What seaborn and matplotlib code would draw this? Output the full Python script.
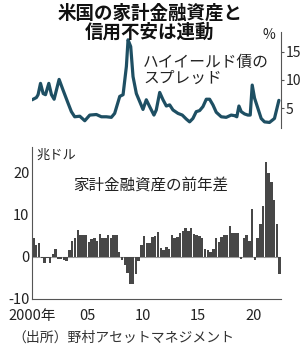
import matplotlib
matplotlib.use("Agg")
import matplotlib.pyplot as plt
import seaborn as sns
import numpy as np
import pandas as pd

# ---- data ----
# Household financial assets, YoY change (trillion USD), quarterly 2000Q1-2022Q2
asset_yoy = [
    4.3, 2.8, 3.3, -0.3,   -1.5, -0.3, -1.5, 0.5,   1.7, -0.5, -0.5, -0.8,
    -1.0, 1.5, 3.7, 4.5,   6.3, 5.0, 5.0, 5.0,      3.5, 4.2, 4.5, 3.8,
    5.3, 4.5, 4.5, 5.0,    4.5, 5.2, 5.2, 1.0,
    -0.8, -2.0, -3.8, -6.5, -6.5, -4.0, -1.0,
    2.7, 4.9, 3.3, 3.3, 4.6, 4.8, 5.8, 2.0, 1.6, 2.2, 1.7, 5.0, 4.5, 4.6,
    5.5, 6.0, 6.8, 6.0, 6.8, 5.4, 5.0, 4.8, 4.4, 1.8, 1.5, 1.2, 1.8, 4.3,
    3.5, 4.6, 5.0, 5.2, 7.2, 5.6, 5.5, 5.7, -0.6,
    4.3, 5.0, 3.8, 11.2, -0.9, 4.5, 7.6, 12.0, 22.4, 19.7, 17.7, 13.3, 7.8, -4.0,
]
start_year = 2000
# High-yield spread (%), read at (years since 2000, value)
spread_t = [0.0, 0.39, 0.54, 0.76, 1.00, 1.21, 1.51, 1.75, 1.99, 2.44, 2.80, 3.25,
            3.55, 3.85, 4.31, 4.76, 5.21, 5.81, 6.26, 6.71, 7.16, 7.46, 7.92, 8.22,
            8.52, 8.67, 8.91, 9.12, 9.42, 9.72, 10.02, 10.32, 10.62, 11.01, 11.22,
            11.53, 11.83, 12.13, 12.43, 12.73, 13.18, 13.57, 13.93, 14.23, 14.53,
            14.83, 15.14, 15.44, 15.74, 16.04, 16.34, 16.64, 17.09, 17.54, 17.99,
            18.29, 18.50, 18.69, 18.90, 19.20, 19.50, 19.71, 19.89, 20.10, 20.40,
            20.70, 21.00, 21.45, 21.90, 22.30]
spread_v = [6.5, 6.9, 7.4, 9.4, 7.6, 7.4, 9.4, 7.4, 6.6, 10.1, 8.2, 5.9,
            4.4, 3.5, 3.6, 2.8, 3.8, 3.9, 3.5, 3.5, 3.4, 4.1, 7.1, 7.4,
            12.4, 17.1, 15.9, 10.6, 7.6, 6.2, 4.8, 6.5, 5.3, 3.8, 4.7,
            7.8, 6.5, 5.4, 5.6, 4.7, 4.1, 3.8, 3.1, 2.6, 3.2,
            4.4, 4.6, 5.3, 6.6, 6.6, 5.6, 4.3, 3.5, 3.4, 3.8,
            3.7, 3.5, 5.4, 4.4, 4.0, 3.8, 3.8, 9.1, 6.8, 5.0,
            3.2, 2.6, 2.5, 3.2, 6.4]
x_ticks = [0, 5, 10, 15, 20]
x_labels = ["2000年", "05", "10", "15", "20"]
y_ticks_bar = [-10, 0, 10, 20]
y_ticks_spread = [5, 10, 15]

sns.set_theme(style="white")
CJK = ["Noto Sans CJK JP", "DejaVu Sans"]
NUM = ["DejaVu Sans Condensed", "Liberation Sans Narrow", "Noto Sans CJK JP", "DejaVu Sans"]
plt.rcParams["font.family"] = CJK

TXT = "#222222"
SPINE = "#555555"
LINE = "#1e4f63"
BAR = "#474747"

fig = plt.figure(figsize=(3.0, 3.5), dpi=100)
fig.patch.set_facecolor("white")
ax_top = fig.add_axes([0.107, 0.634, 0.83, 0.275])
ax_bot = fig.add_axes([0.107, 0.146, 0.83, 0.435])

# ---- bars ----
df_bar = pd.DataFrame({
    "t": np.arange(len(asset_yoy)) * 0.25 + 0.125,
    "v": asset_yoy,
})
sns.barplot(data=df_bar, x="t", y="v", native_scale=True, ax=ax_bot,
            color=BAR, saturation=1, width=0.88, linewidth=0, edgecolor=BAR)
ax_bot.axhline(0, color="#999999", lw=0.8, zorder=0)
ax_bot.set_xlim(0, 22.5)
ax_bot.set_ylim(-10, 26)
ax_bot.set_xlabel("")
ax_bot.set_ylabel("")
ax_bot.set_xticks(x_ticks)
ax_bot.set_xticklabels(x_labels)
ax_bot.set_yticks(y_ticks_bar)
ax_bot.set_yticklabels([str(v) for v in y_ticks_bar])
for s in ["top", "right"]:
    ax_bot.spines[s].set_visible(False)
for s in ["left", "bottom"]:
    ax_bot.spines[s].set_color(SPINE)
    ax_bot.spines[s].set_linewidth(0.8)
ax_bot.tick_params(axis="both", direction="in", length=3, width=0.8,
                   color=SPINE, labelsize=10.5, labelcolor=TXT, pad=2)
ax_bot.tick_params(axis="x", pad=7)
for lab in ax_bot.get_xticklabels() + ax_bot.get_yticklabels():
    lab.set_family(NUM)

# ---- line ----
df_line = pd.DataFrame({"t": spread_t, "v": spread_v})
sns.lineplot(data=df_line, x="t", y="v", ax=ax_top, color=LINE, lw=2.3, sort=False)
ax_top.set_xlim(0, 22.5)
ax_top.set_ylim(1.5, 18.5)
ax_top.set_xlabel("")
ax_top.set_ylabel("")
ax_top.set_xticks([])
ax_top.yaxis.tick_right()
ax_top.set_yticks(y_ticks_spread)
ax_top.set_yticklabels([str(v) for v in y_ticks_spread])
for s in ["top", "left", "bottom"]:
    ax_top.spines[s].set_visible(False)
ax_top.spines["right"].set_color(SPINE)
ax_top.spines["right"].set_linewidth(0.8)
ax_top.tick_params(axis="y", direction="out", length=2.5, width=0.8,
                   color=SPINE, labelsize=10, labelcolor=TXT, pad=1)
ax_top.patch.set_alpha(0)
for lab in ax_top.get_yticklabels():
    lab.set_family(NUM)

# ---- texts ----
fig.text(0.5, 1 - 13.5 / 350, "米国の家計金融資産と", ha="center", va="center",
         fontsize=13.3, fontweight="bold", color="#111111")
fig.text(0.5, 1 - 32 / 350, "信用不安は連動", ha="center", va="center",
         fontsize=13.3, fontweight="bold", color="#111111")
fig.text(275 / 300, 1 - 35 / 350, "%", ha="right", va="center",
         fontsize=10, color=TXT, family=NUM)
fig.text(143 / 300, 1 - 62 / 350, "ハイイールド債の", ha="left", va="center",
         fontsize=11.3, color=TXT)
fig.text(143 / 300, 1 - 78.5 / 350, "スプレッド", ha="left", va="center",
         fontsize=11.3, color=TXT)
fig.text(36 / 300, 1 - 155 / 350, "兆ドル", ha="left", va="center",
         fontsize=9.5, color=TXT)
fig.text(151 / 300, 1 - 185 / 350, "家計金融資産の前年差", ha="center", va="center",
         fontsize=11.2, color=TXT)
fig.text(12 / 300, 1 - 338 / 350, "（出所）野村アセットマネジメント", ha="left", va="center",
         fontsize=10, color="#333333")

fig.savefig("out.png", dpi=100, facecolor="white")
